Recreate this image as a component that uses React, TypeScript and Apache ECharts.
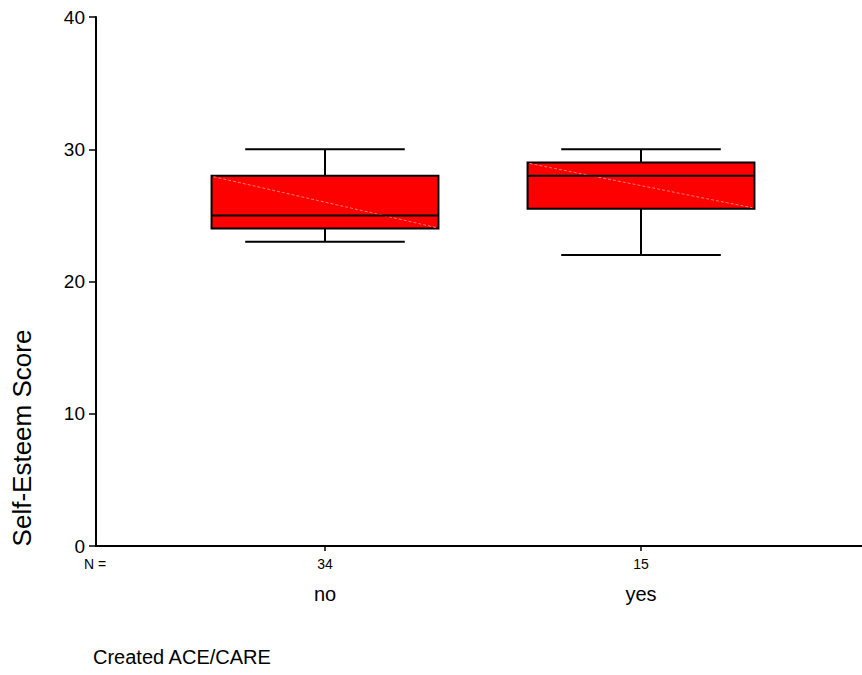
import React, { useEffect, useRef } from "react";
import * as echarts from "echarts";

const categories = ["no", "yes"];
const counts = [34, 15];
const whiskerLow = [23, 22];
const quartile1 = [24, 25.5];
const medians = [25, 28];
const quartile3 = [28, 29];
const whiskerHigh = [30, 30];

const yAxisTitle = "Self-Esteem Score";
const xAxisTitle = "Created ACE/CARE";
const nPrefix = "N =";

const FONT = "'Liberation Sans', Arial, Helvetica, sans-serif";

export default function App() {
  const ref = useRef<HTMLDivElement>(null);
  useEffect(() => {
    if (!ref.current) return;
    const chart = echarts.init(ref.current, null, { renderer: "svg" });
    const data = categories.map((c, i) => [
      i + 1,
      whiskerLow[i],
      quartile1[i],
      medians[i],
      quartile3[i],
      whiskerHigh[i],
      counts[i],
      c,
    ]);
    const xMin = 1 - 229 / 316;
    const xMax = 2 + 221 / 316;
    const renderItem = (params: any, api: any) => {
      const x = api.value(0);
      const lo = api.coord([x, api.value(1)]);
      const q1 = api.coord([x, api.value(2)]);
      const med = api.coord([x, api.value(3)]);
      const q3 = api.coord([x, api.value(4)]);
      const hi = api.coord([x, api.value(5)]);
      const base = api.coord([x, 0]);
      const boxW = api.size([0.718, 0])[0];
      const capW = api.size([0.505, 0])[0];
      const cx = lo[0];
      const lineStyle = { stroke: "#000", lineWidth: 2 };
      return {
        type: "group",
        children: [
          { type: "line", shape: { x1: cx, y1: hi[1], x2: cx, y2: q3[1] }, style: lineStyle },
          { type: "line", shape: { x1: cx, y1: q1[1], x2: cx, y2: lo[1] }, style: lineStyle },
          { type: "line", shape: { x1: cx - capW / 2, y1: hi[1], x2: cx + capW / 2, y2: hi[1] }, style: lineStyle },
          { type: "line", shape: { x1: cx - capW / 2, y1: lo[1], x2: cx + capW / 2, y2: lo[1] }, style: lineStyle },
          {
            type: "rect",
            shape: { x: cx - boxW / 2, y: q3[1], width: boxW, height: q1[1] - q3[1] },
            style: { fill: "#ff0000", stroke: "#000", lineWidth: 2 },
          },
          {
            type: "line",
            shape: { x1: cx - boxW / 2 + 2, y1: q3[1] + 1, x2: cx + boxW / 2 - 2, y2: q1[1] - 1 },
            style: { stroke: "#ff7a7a", lineWidth: 1, lineDash: [3, 2] },
          },
          { type: "line", shape: { x1: cx - boxW / 2, y1: med[1], x2: cx + boxW / 2, y2: med[1] }, style: lineStyle },
          { type: "line", shape: { x1: cx, y1: base[1], x2: cx, y2: base[1] + 5 }, style: { stroke: "#000", lineWidth: 1.5 } },
          {
            type: "text",
            style: {
              x: cx, y: base[1] + 18, text: String(api.value(6)),
              fill: "#000", font: `14px ${FONT}`, align: "center", verticalAlign: "middle",
            },
          },
          {
            type: "text",
            style: {
              x: cx, y: base[1] + 48, text: categories[params.dataIndex],
              fill: "#000", font: `20px ${FONT}`, align: "center", verticalAlign: "middle",
            },
          },
        ],
      };
    };
    chart.setOption({
      animation: false,
      backgroundColor: "#fff",
      grid: { left: 96, top: 17, width: 766, height: 529, containLabel: false },
      xAxis: [
        {
          type: "value", min: xMin, max: xMax, position: "bottom",
          axisLine: { show: true, onZero: false, lineStyle: { color: "#000", width: 2 } },
          axisTick: { show: false }, axisLabel: { show: false }, splitLine: { show: false },
        },
        {
          type: "value", min: xMin, max: xMax, position: "top",
          axisLine: { show: true, lineStyle: { color: "#000", width: 2 } },
          axisTick: { show: false }, axisLabel: { show: false }, splitLine: { show: false },
        },
      ],
      yAxis: {
        type: "value", min: 0, max: 40, interval: 10,
        axisLine: { show: true, lineStyle: { color: "#000", width: 2 } },
        axisTick: { show: true, length: 7, lineStyle: { color: "#000", width: 1.5 } },
        axisLabel: { color: "#000", fontSize: 19, fontFamily: FONT, margin: 11 },
        splitLine: { show: false },
      },
      graphic: [
        {
          type: "text", x: 22, y: 438, rotation: Math.PI / 2,
          style: { text: yAxisTitle, fill: "#000", font: `26px ${FONT}`, align: "center", verticalAlign: "middle" },
        },
        {
          type: "text", x: 93, y: 657,
          style: { text: xAxisTitle, fill: "#000", font: `20px ${FONT}`, align: "left", verticalAlign: "middle" },
        },
        {
          type: "text", x: 95, y: 564,
          style: { text: nPrefix, fill: "#000", font: `14px ${FONT}`, align: "center", verticalAlign: "middle" },
        },
      ],
      series: [
        {
          type: "custom", xAxisIndex: 0, yAxisIndex: 0, renderItem, data,
          encode: { x: 0, y: [1, 2, 3, 4, 5] }, clip: false,
        },
      ],
    });
    return () => chart.dispose();
  }, []);
  return (
    <div
      ref={ref}
      style={{ position: "fixed", left: 0, top: 0, width: 862, height: 675, background: "#fff" }}
    />
  );
}
